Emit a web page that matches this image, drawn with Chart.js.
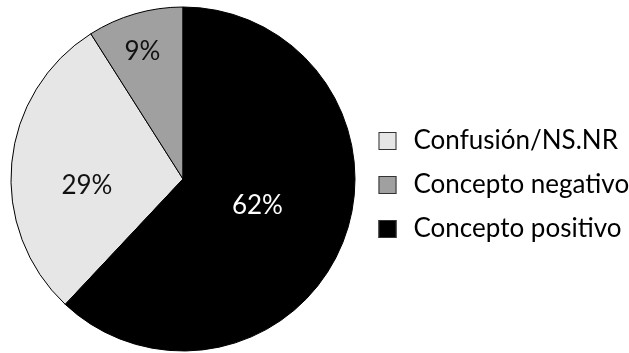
<!DOCTYPE html>
<html>
<head>
<meta charset="utf-8">
<script src="https://cdn.jsdelivr.net/npm/chart.js@4.4.0/dist/chart.umd.min.js"></script>
<style>
  html, body { margin: 0; padding: 0; background: #fff; }
  #wrap { width: 629px; height: 353px; }
</style>
</head>
<body>
<div id="wrap"><canvas id="pieChart" width="629" height="353"></canvas></div>
<script>
// Survey answers (percent)
const categories = ['Confusión/NS.NR', 'Concepto negativo', 'Concepto positivo'];
const shares = [29, 9, 62];
const sliceColors = ['#e6e6e6', '#a0a0a0', '#000000'];
const labelColors = ['#111111', '#111111', '#ffffff'];

// where each percent label sits: fraction of radius and angle nudge (deg)
const labelSpots = [
    { r: 0.56, shift: -9.6 },
    { r: 0.775, shift: -1.5 },
    { r: 0.46, shift: -1.7 }
];

const FONT = 'Lato';

document.addEventListener('DOMContentLoaded', function() {
    // Percent text inside each slice
    const sliceLabels = {
        id: 'sliceLabels',
        afterDatasetsDraw(chart) {
            const ctx = chart.ctx;
            const meta = chart.getDatasetMeta(0);
            ctx.save();
            ctx.font = '26px ' + FONT;
            ctx.textAlign = 'center';
            ctx.textBaseline = 'middle';
            meta.data.forEach(function(arc, i) {
                const p = arc.getProps(['x', 'y', 'startAngle', 'endAngle', 'outerRadius'], true);
                const mid = (p.startAngle + p.endAngle) / 2 + labelSpots[i].shift * Math.PI / 180;
                const d = p.outerRadius * labelSpots[i].r;
                ctx.fillStyle = labelColors[i];
                ctx.fillText(shares[i] + '%', p.x + Math.cos(mid) * d, p.y + Math.sin(mid) * d);
            });
            ctx.restore();
        }
    };

    // Legend to the right of the pie
    const sideLegend = {
        id: 'sideLegend',
        afterDraw(chart) {
            const ctx = chart.ctx;
            const area = chart.chartArea;
            const box = 18;
            const rowGap = 44;
            const x = area.right + 23;
            const midY = (area.top + area.bottom) / 2 + 6;
            ctx.save();
            ctx.font = '26px ' + FONT;
            ctx.textBaseline = 'middle';
            categories.forEach(function(name, i) {
                const cy = midY + (i - 1) * rowGap;
                ctx.fillStyle = sliceColors[i];
                ctx.fillRect(x, cy - box / 2, box, box);
                ctx.strokeStyle = '#333333';
                ctx.lineWidth = 1;
                ctx.strokeRect(x + 0.5, cy - box / 2 + 0.5, box - 1, box - 1);
                ctx.fillStyle = '#000000';
                ctx.fillText(name, x + 35, cy);
            });
            ctx.restore();
        }
    };

    const data = {
        labels: categories,
        datasets: [{
            data: shares,
            backgroundColor: sliceColors,
            borderColor: '#000000',
            borderWidth: 1
        }]
    };

    const config = {
        type: 'pie',
        data: data,
        options: {
            responsive: false,
            animation: false,
            rotation: 223.2,
            layout: {
                padding: { left: 10.5, right: 273.5, top: 6.5, bottom: 1.5 }
            },
            plugins: {
                legend: { display: false },
                tooltip: { enabled: false }
            }
        },
        plugins: [sliceLabels, sideLegend]
    };

    const chartCtx = document.getElementById('pieChart').getContext('2d');
    new Chart(chartCtx, config);
});
</script>
</body>
</html>
